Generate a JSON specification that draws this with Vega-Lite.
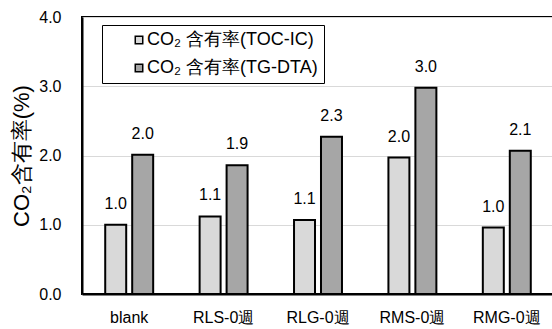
{
  "$schema": "https://vega.github.io/schema/vega-lite/v6.json",
  "width": 472,
  "height": 277,
  "autosize": "none",
  "padding": {"left": 82, "top": 17, "right": 0, "bottom": 35},
  "background": "white",
  "config": {
    "font": "Liberation Sans",
    "view": {"stroke": "black", "strokeWidth": 2},
    "axis": {"labelFont": "Liberation Sans", "titleFont": "Liberation Sans"}
  },
  "data": {
    "values": [
      {"sample": "blank", "series": "CO₂ 含有率(TOC-IC)", "value": 1.0},
      {"sample": "blank", "series": "CO₂ 含有率(TG-DTA)", "value": 2.01},
      {"sample": "RLS-0週", "series": "CO₂ 含有率(TOC-IC)", "value": 1.12},
      {"sample": "RLS-0週", "series": "CO₂ 含有率(TG-DTA)", "value": 1.86},
      {"sample": "RLG-0週", "series": "CO₂ 含有率(TOC-IC)", "value": 1.07},
      {"sample": "RLG-0週", "series": "CO₂ 含有率(TG-DTA)", "value": 2.27},
      {"sample": "RMS-0週", "series": "CO₂ 含有率(TOC-IC)", "value": 1.97},
      {"sample": "RMS-0週", "series": "CO₂ 含有率(TG-DTA)", "value": 2.98},
      {"sample": "RMG-0週", "series": "CO₂ 含有率(TOC-IC)", "value": 0.96},
      {"sample": "RMG-0週", "series": "CO₂ 含有率(TG-DTA)", "value": 2.07}
    ]
  },
  "encoding": {
    "x": {
      "field": "sample", "type": "nominal", "sort": null,
      "scale": {"paddingInner": 0, "paddingOuter": 0},
      "axis": {"title": null, "labelAngle": 0, "labelFontSize": 16, "labelColor": "black", "ticks": false, "domainColor": "black", "domainWidth": 2, "labelPadding": 15}
    },
    "xOffset": {
      "field": "series", "type": "nominal", "sort": null,
      "scale": {"paddingInner": 0.222, "paddingOuter": 0.861}
    },
    "y": {
      "field": "value", "type": "quantitative",
      "scale": {"domain": [0, 4]},
      "axis": {"title": "CO₂含有率(%)", "titleFontSize": 22, "titleFontWeight": "normal", "titleColor": "black", "titlePadding": 5,
               "values": [0, 1, 2, 3, 4], "format": ".1f", "labelFontSize": 16, "labelColor": "black", "labelPadding": 21,
               "ticks": false, "domainColor": "black", "domainWidth": 2, "gridColor": "#d9d9d9", "gridWidth": 1}
    }
  },
  "layer": [
    {
      "mark": {"type": "bar", "stroke": "black", "strokeWidth": 2},
      "encoding": {
        "color": {
          "field": "series", "type": "nominal", "sort": null,
          "scale": {"domain": ["CO₂ 含有率(TOC-IC)", "CO₂ 含有率(TG-DTA)"], "range": ["#d9d9d9", "#a6a6a6"]},
          "legend": {
            "title": null,
            "orient": "none", "legendX": 20, "legendY": 8,
            "labelFontSize": 18, "labelColor": "black", "symbolType": "square", "symbolSize": 56,
            "symbolStrokeColor": "black", "symbolStrokeWidth": 1.5, "rowPadding": 10, "labelOffset": -1,
            "strokeColor": "black", "fillColor": "white", "padding": 6, "labelLimit": 400,
            "symbolOffset": 22
          }
        }
      }
    },
    {
      "mark": {"type": "text", "fontSize": 16, "color": "black", "baseline": "middle", "dy": -21},
      "encoding": {
        "text": {"field": "value", "type": "quantitative", "format": ".1f"}
      }
    }
  ]
}
